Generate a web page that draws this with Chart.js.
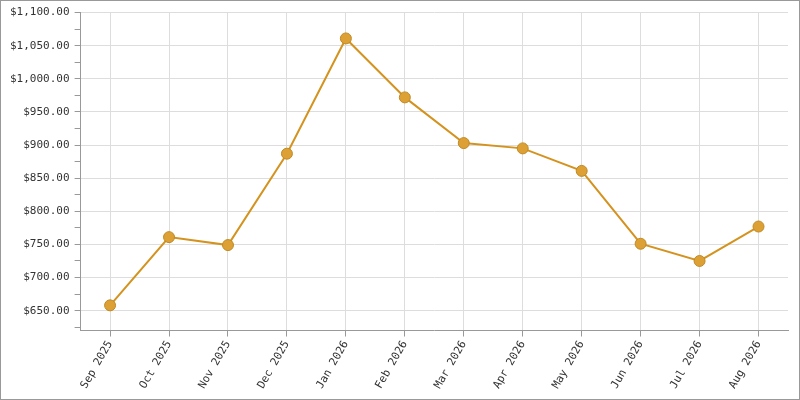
<!DOCTYPE html>
<html><head><script src="https://cdn.jsdelivr.net/npm/chart.js@4"></script>
<style>html,body{margin:0;padding:0;background:#fff}#w{width:798px;height:398px;border:1px solid #999}</style></head>
<body><div id="w"><canvas id="c"></canvas></div>
<script>
const categories=['Sep 2025','Oct 2025','Nov 2025','Dec 2025','Jan 2026','Feb 2026','Mar 2026','Apr 2026','May 2026','Jun 2026','Jul 2026','Aug 2026'];
const values=[658,761,749,887,1061,972,903,895,861,751,725,777];
new Chart(document.getElementById('c'),{type:'line',
data:{labels:categories,datasets:[{data:values,borderColor:'#d4931f',borderWidth:2,backgroundColor:'#dca035',pointBorderColor:'#c08a25',pointBorderWidth:1,pointRadius:5.5,tension:0}]},
options:{responsive:true,maintainAspectRatio:false,animation:false,
layout:{padding:{top:6,right:11,left:4,bottom:6}},
plugins:{legend:{display:false},tooltip:{enabled:false}},
scales:{
x:{offset:true,grid:{color:'#ddd',tickColor:'#999',tickLength:6},border:{color:'#999'},
ticks:{color:'#333',font:{family:'DejaVu Sans Mono',size:11},maxRotation:60,minRotation:60,padding:2}},
y:{min:620,max:1100,afterBuildTicks:a=>{a.ticks=[];for(let v=625;v<=1100;v+=25)a.ticks.push({value:v});},
grid:{color:c=>c.tick&&c.tick.value%50===0?'#ddd':'transparent',tickColor:'#999',tickLength:6},border:{color:'#999'},
ticks:{color:'#333',font:{family:'DejaVu Sans Mono',size:11},padding:5,callback:v=>v%50===0?'$'+v.toLocaleString('en-US',{minimumFractionDigits:2}):''}}}}});
</script></body></html>
